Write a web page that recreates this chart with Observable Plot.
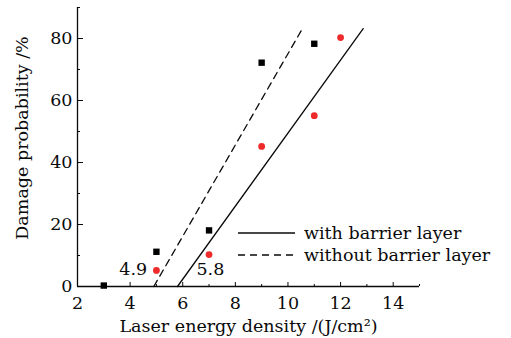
<!DOCTYPE html>
<html>
<head>
<meta charset="utf-8">
<script src="https://cdn.jsdelivr.net/npm/d3@7"></script>
<script src="https://cdn.jsdelivr.net/npm/@observablehq/plot@0.6"></script>
<style>
  html, body { margin: 0; padding: 0; background: #fff; }
  #chart svg { display: block; }
</style>
</head>
<body>
<div id="chart"></div>
<script>
// Measured data
const density = [3, 5, 7, 9, 11];
const withoutBarrier = [0.3, 11.2, 18.1, 72.2, 78.3];   // black squares
const densityRed = [5, 7, 9, 11, 12];
const withBarrier = [5.2, 10.3, 45.2, 55.1, 80.3];      // red dots

// Fitted lines (threshold -> top end)
const fitWithX = [5.8, 12.86];
const fitWithY = [0, 83.2];
const fitWithoutX = [4.9, 10.55];
const fitWithoutY = [0, 83.2];

const thresholdLabels = ["4.9", "5.8"];
const thresholdLabelX = [4.12, 7.05];
const thresholdLabelY = [3.6, 3.6];

const xMajor = [2, 4, 6, 8, 10, 12, 14];
const xMinor = [3, 5, 7, 9, 11, 13, 15];
const yMajor = [0, 20, 40, 60, 80];
const yMinor = [10, 30, 50, 70, 90];

const xTitle = "Laser energy density /(J/cm²)";
const yTitle = "Damage probability /%";
const legendLabels = ["with barrier layer", "without barrier layer"];

const black = density.map((x, i) => ({x, y: withoutBarrier[i]}));
const red = densityRed.map((x, i) => ({x, y: withBarrier[i]}));
const lineWith = fitWithX.map((x, i) => ({x, y: fitWithY[i]}));
const lineWithout = fitWithoutX.map((x, i) => ({x, y: fitWithoutY[i]}));
const ann = thresholdLabels.map((t, i) => ({t, x: thresholdLabelX[i], y: thresholdLabelY[i]}));

const FONT = "DejaVu Serif";
const FS = 17.5;
const INK = "#0a0a0a";

const chart = Plot.plot({
  width: 511,
  height: 338,
  marginLeft: 77,
  marginRight: 92,
  marginTop: 7,
  marginBottom: 52,
  style: {fontFamily: FONT, fontSize: FS + "px", color: INK, background: "#fff"},
  x: {domain: [2, 15]},
  y: {domain: [0, 90]},
  marks: [
    // axis lines
    Plot.ruleY([0], {stroke: INK, strokeWidth: 1.3}),
    Plot.ruleX([2], {stroke: INK, strokeWidth: 1.3}),
    // inward ticks
    Plot.axisX({ticks: xMajor, tickSize: -4, text: null, label: null, stroke: INK}),
    Plot.axisX({ticks: xMinor, tickSize: -2, text: null, label: null, stroke: INK}),
    Plot.axisY({ticks: yMajor, tickSize: -6, text: null, label: null, stroke: INK}),
    Plot.axisY({ticks: yMinor, tickSize: -3, text: null, label: null, stroke: INK}),
    // tick labels & titles
    Plot.axisX({ticks: xMajor, tickSize: 0, tickPadding: 10, fontSize: FS, fill: INK,
      label: xTitle, labelAnchor: "center", labelOffset: 45, labelArrow: "none"}),
    Plot.axisY({ticks: yMajor, tickSize: 0, tickPadding: 5, fontSize: FS, fill: INK, label: null}),
    Plot.text([yTitle], {frameAnchor: "left", textAnchor: "middle", dx: -55, dy: -9, rotate: -90,
      fontSize: FS, fill: INK}),
    // fits
    Plot.line(lineWith, {x: "x", y: "y", stroke: INK, strokeWidth: 1.3}),
    Plot.line(lineWithout, {x: "x", y: "y", stroke: INK, strokeWidth: 1.3, strokeDasharray: "7,5"}),
    // points
    Plot.dot(black, {x: "x", y: "y", symbol: "square", r: 3.6, fill: "#000", stroke: null}),
    Plot.dot(red, {x: "x", y: "y", r: 3.4, fill: "#ee2a2a", stroke: null}),
    // threshold labels
    Plot.text(ann, {x: "x", y: "y", text: "t", fontSize: FS, fill: INK, lineAnchor: "bottom"})
  ]
});

document.getElementById("chart").appendChild(chart);

// Legend
const svg = d3.select(chart);
const lg = svg.append("g").attr("font-family", FONT).attr("font-size", FS)
  .attr("fill", INK).attr("text-anchor", "start");
const legendY = [233, 255];
const dashes = [null, "7,5"];
legendLabels.forEach((label, i) => {
  lg.append("line").attr("x1", 238).attr("x2", 295).attr("y1", legendY[i]).attr("y2", legendY[i])
    .attr("stroke", INK).attr("stroke-width", 1.3).attr("stroke-dasharray", dashes[i]);
  lg.append("text").attr("x", 304).attr("y", legendY[i]).attr("dy", "0.32em").text(label);
});
</script>
</body>
</html>
